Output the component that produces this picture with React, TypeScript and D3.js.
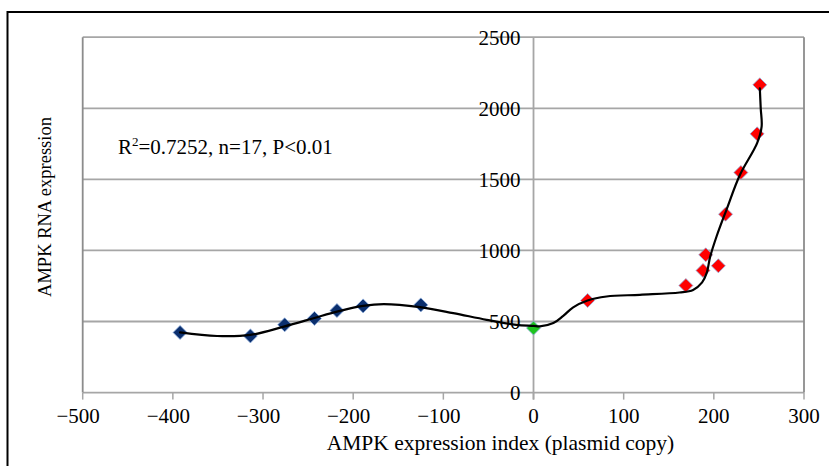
import React from "react";
import * as d3 from "d3";

// measured points (three groups)
const blueX = [-392, -314, -276, -243, -218, -189, -125];
const blueY = [423, 399, 477, 522, 577, 610, 617];
const greenX = [0];
const greenY = [454];
const redX = [60, 169, 188, 191, 205, 213, 230, 248, 251];
const redY = [648, 753, 859, 969, 892, 1255, 1548, 1820, 2165];

// fitted curve
const fitX = [-392, -351, -314, -277, -244, -218, -189, -166, -126, -89, -52, -19, 0, 7, 22, 33, 44, 60, 81, 118, 162, 177, 187, 192, 196, 203, 214, 229, 248, 253, 252, 251];
const fitY = [423, 398, 406, 464, 523, 570, 610, 622, 601, 559, 512, 477, 470, 466, 489, 540, 600, 648, 676, 688, 704, 722, 775, 840, 957, 1098, 1286, 1532, 1755, 1871, 2000, 2141];

const xTicks = [-500, -400, -300, -200, -100, 0, 100, 200, 300];
const yTicks = [0, 500, 1000, 1500, 2000, 2500];

const FONT = "'Liberation Serif', 'Times New Roman', serif";

const Diamond = ({ cx, cy, fill }: { cx: number; cy: number; fill: string }) => {
    const r = 7;
    return (
        <path
            d={`M${cx},${cy - r}L${cx + r},${cy}L${cx},${cy + r}L${cx - r},${cy}Z`}
            fill={fill}
            stroke="#8fb0e0"
            strokeWidth={0.8}
        />
    );
};

const App = () => {
    const width = 829;
    const height = 466;

    const x = d3.scaleLinear().domain([-500, 300]).range([82.7, 804]);
    const y = d3.scaleLinear().domain([0, 2500]).range([392.6, 37.2]);

    const line = d3
        .line<number>()
        .x((d) => x(fitX[d]))
        .y((d) => y(fitY[d]))
        .curve(d3.curveCatmullRom.alpha(0.5));

    const fitPath = line(fitX.map((_, i) => i)) || "";

    const x0 = x(0);

    return (
        <svg
            width={width}
            height={height}
            style={{ position: "absolute", left: 0, top: 0, background: "#fff" }}
            fontFamily={FONT}
        >
            {/* outer frame */}
            <rect x={7.5} y={12} width={840} height={480} fill="none" stroke="#000" strokeWidth={2} />

            {/* horizontal gridlines */}
            {yTicks.map((t) => (
                <line key={t} x1={x(-500)} x2={x(300)} y1={y(t)} y2={y(t)} stroke="#a6a6a6" strokeWidth={1.8} />
            ))}
            {/* plot border sides */}
            <line x1={x(-500)} x2={x(-500)} y1={y(2500)} y2={y(0)} stroke="#8c8c8c" strokeWidth={1.8} />
            <line x1={x(300)} x2={x(300)} y1={y(2500)} y2={y(0)} stroke="#8c8c8c" strokeWidth={1.8} />
            {/* y axis at x = 0 */}
            <line x1={x0} x2={x0} y1={y(2500)} y2={y(0) + 7} stroke="#a6a6a6" strokeWidth={1.8} />
            {/* x axis ticks */}
            {xTicks.map((t) => (
                <line key={t} x1={x(t)} x2={x(t)} y1={y(0)} y2={y(0) + 7} stroke="#a6a6a6" strokeWidth={1.5} />
            ))}

            {/* markers */}
            {blueX.map((v, i) => (
                <Diamond key={"b" + i} cx={x(v)} cy={y(blueY[i])} fill="#0b2f6e" />
            ))}
            {greenX.map((v, i) => (
                <Diamond key={"g" + i} cx={x(v)} cy={y(greenY[i])} fill="#1ec41e" />
            ))}
            {redX.map((v, i) => (
                <Diamond key={"r" + i} cx={x(v)} cy={y(redY[i])} fill="#ff0000" />
            ))}

            {/* fitted curve */}
            <path d={fitPath} fill="none" stroke="#000" strokeWidth={2.2} strokeLinejoin="round" strokeLinecap="round" />

            {/* y tick labels */}
            {yTicks.map((t) => (
                <text key={t} x={x0 - 13} y={y(t)} dy="0.35em" textAnchor="end" fontSize={21} fill="#000">
                    {t}
                </text>
            ))}
            {/* x tick labels */}
            {xTicks.map((t) => (
                <text key={t} x={x(t) + (t < 0 ? -4.5 : 0)} y={423} textAnchor="middle" fontSize={21} fill="#000">
                    {t < 0 ? "\u2212" + Math.abs(t) : t}
                </text>
            ))}

            {/* axis titles */}
            <text x={500.5} y={450} textAnchor="middle" fontSize={21.5} fill="#000">
                AMPK expression index (plasmid copy)
            </text>
            <text transform="translate(51,207) rotate(-90)" textAnchor="middle" fontSize={18.5} fill="#000">
                AMPK RNA expression
            </text>

            {/* annotation */}
            <text x={118} y={154} fontSize={21} fill="#000">
                R<tspan fontSize={13} dy={-8}>2</tspan>
                <tspan dy={8}>=0.7252, n=17, P&lt;0.01</tspan>
            </text>
        </svg>
    );
};

export default App;
